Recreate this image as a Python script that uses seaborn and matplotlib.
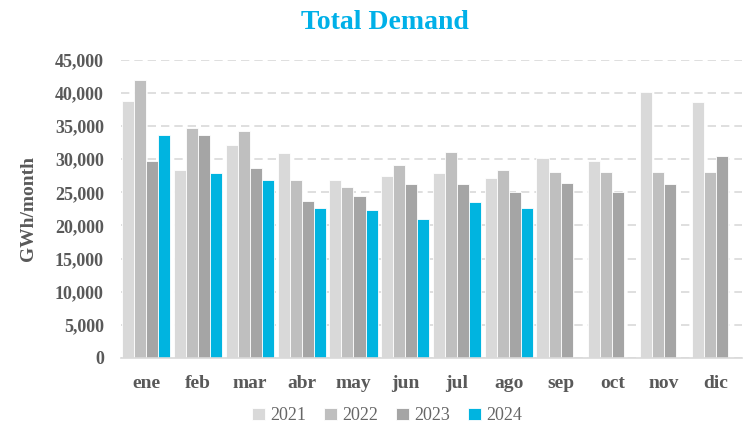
import pandas as pd
import numpy as np
import matplotlib.pyplot as plt
import seaborn as sns
from matplotlib.ticker import FuncFormatter

# monthly demand values (GWh/month)
months = ["ene", "feb", "mar", "abr", "may", "jun", "jul", "ago", "sep", "oct", "nov", "dic"]
years = ["2021", "2022", "2023", "2024"]
demand_2021 = [38800, 28400, 32200, 31000, 26900, 27400, 27900, 27200, 30200, 29700, 40100, 38600]
demand_2022 = [42000, 34700, 34200, 26900, 25800, 29200, 31100, 28400, 28100, 28000, 28000, 28000]
demand_2023 = [29700, 33600, 28700, 23700, 24500, 26200, 26200, 25100, 26400, 25100, 26200, 30500]
demand_2024 = [33600, 27900, 26800, 22600, 22400, 21000, 23600, 22600, np.nan, np.nan, np.nan, np.nan]
colors = ["#d9d9d9", "#bfbfbf", "#a5a5a5", "#00b4e0"]

# long format table for seaborn
df = pd.DataFrame({
    "month": months * 4,
    "year": [y for y in years for _ in months],
    "value": demand_2021 + demand_2022 + demand_2023 + demand_2024,
})

sns.set_style("white")
plt.rcParams["font.family"] = ["Liberation Serif", "DejaVu Serif"]

fig, ax = plt.subplots(figsize=(7.44, 4.25), dpi=100)
sns.barplot(
    data=df, x="month", y="value", hue="year", order=months, hue_order=years,
    palette=colors, width=0.93, edgecolor="white", linewidth=0.6, ax=ax,
    saturation=1,
)

ax.set_ylim(0, 45000)
ax.set_yticks(range(0, 45001, 5000))
ax.yaxis.set_major_formatter(FuncFormatter(lambda v, p: f"{int(v):,}"))
ax.yaxis.grid(True, linestyle=(0, (5, 3)), color="#d9d9d9", linewidth=1.2)
ax.set_axisbelow(True)
for s in ["top", "right", "left"]:
    ax.spines[s].set_visible(False)
ax.spines["bottom"].set_color("#d9d9d9")
ax.spines["bottom"].set_linewidth(1.2)
ax.tick_params(axis="y", length=0, labelsize=13, labelcolor="#595959", pad=12)
ax.tick_params(axis="x", length=0, labelsize=14, labelcolor="#595959", pad=12)
for lab in ax.get_xticklabels() + ax.get_yticklabels():
    lab.set_fontweight("bold")

ax.set_xlabel("")
ax.set_ylabel("GWh/month", fontsize=14, fontweight="bold", color="#595959", labelpad=13)
fig.suptitle("Total Demand", x=0.518, y=0.946, va="center", fontsize=20,
             fontweight="bold", color="#00b0e8")

handles, labels = ax.get_legend_handles_labels()
fig.legend(handles, labels, loc="center", bbox_to_anchor=(0.52, 0.022), ncol=4,
           frameon=False, fontsize=13, handlelength=0.7, handleheight=0.7,
           columnspacing=1.0, handletextpad=0.3, labelcolor="#666666",
           borderpad=0.1)
ax.get_legend().remove()

plt.subplots_adjust(left=0.162, right=0.997, top=0.859, bottom=0.158)
plt.savefig("out.png")
